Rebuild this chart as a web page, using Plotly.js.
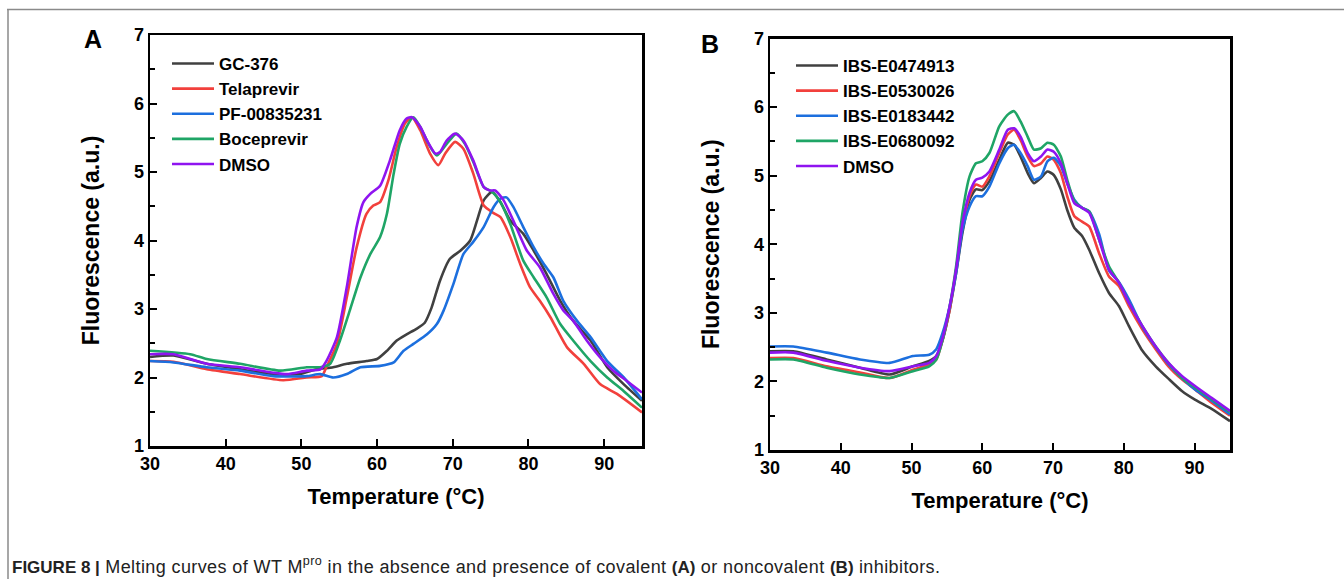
<!DOCTYPE html>
<html>
<head>
<meta charset="utf-8">
<script src="https://cdn.plot.ly/plotly-3.0.1.min.js"></script>
<style>html,body{margin:0;padding:0;background:#fff;}#chart{width:1344px;height:579px;}</style>
</head>
<body>
<div id="chart"></div>
<script>
// ---------- Panel A (covalent inhibitors) ----------
const namesA = ["GC-376", "Telaprevir", "PF-00835231", "Boceprevir", "DMSO"];
const gcX = [30,33.1,37.5,41.9,46.3,49.8,52.0,54.2,56.0,58.6,60.0,61.3,62.6,63.9,65.2,66.3,67.2,68.3,69.6,71.0,72.3,73.2,74.1,75.2,76.3,77.6,79.3,80.7,82.4,84.2,85.9,88.2,90.4,92.6,95];
const gcY = [2.30,2.32,2.20,2.12,2.05,2.05,2.12,2.15,2.20,2.24,2.27,2.39,2.54,2.63,2.71,2.80,3.02,3.41,3.73,3.85,4.00,4.29,4.59,4.71,4.56,4.29,4.10,3.85,3.51,3.12,2.83,2.54,2.15,1.90,1.66];
const telX = [30,33.1,37.5,41.9,47.6,50.7,52.7,53.3,54.7,56.0,57.3,58.6,59.5,60.4,61.5,62.6,63.7,64.6,65.7,67.0,68.1,69.0,70.3,71.4,72.7,74.1,75.4,76.3,77.6,78.9,80.2,81.5,82.9,85.1,87.3,89.5,91.7,95];
const telY = [2.24,2.23,2.12,2.05,1.96,2.00,2.02,2.15,2.49,3.17,3.90,4.39,4.51,4.56,4.88,5.37,5.71,5.80,5.61,5.27,5.10,5.27,5.44,5.34,4.98,4.51,4.40,4.34,4.05,3.66,3.32,3.12,2.88,2.44,2.20,1.90,1.76,1.49];
const pfX = [30,33.1,37.5,41.9,46.3,50.7,52.5,54.2,56.0,57.8,60.4,62.2,63.5,64.8,66.6,67.9,68.8,70.1,71.4,72.7,74.1,75.4,76.3,77.1,78.0,79.3,80.7,82.0,83.3,84.6,86.4,88.2,90.4,92.6,95];
const pfY = [2.24,2.22,2.15,2.10,2.02,2.02,2.05,2.00,2.05,2.15,2.17,2.22,2.39,2.49,2.63,2.78,2.98,3.37,3.80,3.98,4.20,4.49,4.61,4.63,4.49,4.20,3.90,3.66,3.46,3.12,2.83,2.59,2.24,2.00,1.68];
const bocX = [30,35.3,37.5,41.9,47.2,50.7,52.5,53.8,55.1,56.4,57.8,59.1,60.4,61.3,62.2,63.0,63.9,64.8,65.7,66.8,67.9,69.2,70.5,71.6,72.7,74.1,75.2,76.3,77.6,79.3,80.7,82.4,84.2,85.9,88.2,90.4,92.6,95];
const bocY = [2.39,2.34,2.27,2.20,2.10,2.15,2.15,2.20,2.54,2.98,3.46,3.80,4.05,4.39,4.98,5.41,5.66,5.80,5.66,5.41,5.24,5.41,5.56,5.41,5.15,4.78,4.71,4.56,4.24,3.71,3.46,3.17,2.78,2.54,2.24,2.00,1.80,1.56];
const dmsoAX = [30,33.1,37.5,41.9,46.3,48.1,50.7,52.5,53.3,54.7,56.0,57.3,58.2,59.1,60.4,61.7,63.0,63.9,64.6,65.7,66.6,67.7,68.3,69.2,70.3,71.4,72.7,74.1,74.9,75.6,76.7,78.0,79.8,81.5,83.3,84.6,85.9,87.7,89.5,91.2,93.0,95];
const dmsoAY = [2.34,2.34,2.20,2.15,2.07,2.05,2.10,2.12,2.24,2.59,3.32,4.20,4.56,4.68,4.80,5.17,5.61,5.78,5.80,5.66,5.46,5.27,5.29,5.46,5.56,5.46,5.17,4.78,4.73,4.73,4.59,4.29,3.85,3.61,3.22,2.98,2.83,2.54,2.29,2.10,1.95,1.78];

// ---------- Panel B (noncovalent inhibitors) ----------
const namesB = ["IBS-E0474913", "IBS-E0530026", "IBS-E0183442", "IBS-E0680092", "DMSO"];
const bX = [30,33.3,38.0,42.7,46.9,50.2,52.5,53.5,54.4,55.4,56.3,57.2,58.2,59.1,60.0,61.0,62.4,63.6,64.5,65.4,66.4,67.3,68.3,69.2,70.1,71.1,72.0,73.0,74.1,75.1,76.5,77.9,79.3,80.7,82.6,84.5,86.3,88.2,90.1,92.4,95];
const e0474913Y = [2.44,2.44,2.32,2.20,2.10,2.22,2.30,2.37,2.61,3.05,3.58,4.17,4.65,4.80,4.79,4.92,5.23,5.48,5.45,5.28,5.04,4.89,4.97,5.06,5.01,4.80,4.50,4.24,4.12,3.92,3.58,3.29,3.10,2.81,2.45,2.22,2.04,1.86,1.73,1.60,1.42];
const e0530026Y = [2.34,2.34,2.22,2.13,2.05,2.17,2.25,2.32,2.61,3.05,3.63,4.26,4.70,4.87,4.84,4.99,5.33,5.60,5.67,5.52,5.28,5.14,5.18,5.28,5.23,5.04,4.70,4.41,4.33,4.26,3.87,3.53,3.39,3.10,2.76,2.47,2.22,2.03,1.88,1.69,1.50];
const e0183442Y = [2.51,2.51,2.42,2.32,2.27,2.37,2.39,2.47,2.71,3.10,3.58,4.21,4.55,4.70,4.70,4.84,5.18,5.40,5.45,5.33,5.14,4.94,4.99,5.21,5.26,5.14,4.89,4.65,4.53,4.48,4.15,3.62,3.45,3.20,2.80,2.50,2.25,2.05,1.88,1.72,1.52];
const e0680092Y = [2.32,2.32,2.20,2.10,2.05,2.15,2.22,2.32,2.61,3.10,3.68,4.46,4.99,5.18,5.21,5.33,5.72,5.89,5.94,5.79,5.57,5.38,5.40,5.48,5.45,5.28,4.94,4.63,4.53,4.48,4.07,3.68,3.44,3.15,2.81,2.51,2.27,2.05,1.91,1.74,1.55];
const dmsoBY = [2.42,2.42,2.30,2.20,2.15,2.22,2.27,2.37,2.64,3.10,3.63,4.31,4.75,4.94,4.97,5.06,5.38,5.67,5.69,5.57,5.33,5.21,5.28,5.38,5.35,5.18,4.89,4.60,4.53,4.46,4.07,3.63,3.44,3.15,2.81,2.51,2.27,2.08,1.93,1.76,1.57];

// tick values
const xTicks = [30,40,50,60,70,80,90];
const yTicks = [1,2,3,4,5,6,7];

const colors = ["#404040", "#f2403c", "#1c6fde", "#1fa566", "#8f14f0"];

const FONT = "Liberation Sans, Arial, sans-serif";
const lineW = 2.6;

function mk(x, y, name, color, xa, ya, legend) {
  return {x: x, y: y, name: name, type: "scatter", mode: "lines",
    line: {color: color, width: lineW, shape: "spline", smoothing: 0.6},
    xaxis: xa, yaxis: ya, legend: legend, hoverinfo: "skip"};
}

const traces = [
  mk(gcX, gcY, namesA[0], colors[0], "x", "y", "legend"),
  mk(telX, telY, namesA[1], colors[1], "x", "y", "legend"),
  mk(pfX, pfY, namesA[2], colors[2], "x", "y", "legend"),
  mk(bocX, bocY, namesA[3], colors[3], "x", "y", "legend"),
  mk(dmsoAX, dmsoAY, namesA[4], colors[4], "x", "y", "legend"),
  mk(bX, e0474913Y, namesB[0], colors[0], "x2", "y2", "legend2"),
  mk(bX, e0530026Y, namesB[1], colors[1], "x2", "y2", "legend2"),
  mk(bX, e0183442Y, namesB[2], colors[2], "x2", "y2", "legend2"),
  mk(bX, e0680092Y, namesB[3], colors[3], "x2", "y2", "legend2"),
  mk(bX, dmsoBY, namesB[4], colors[4], "x2", "y2", "legend2")
];

function xaxis(domain, anchor) {
  return {domain: domain, anchor: anchor, range: [30, 95], tickvals: xTicks,
    ticks: "inside", ticklen: 7, tickwidth: 2, tickcolor: "#000",
    showline: true, linewidth: 2.5, linecolor: "#000", mirror: true,
    showgrid: false, zeroline: false,
    tickfont: {family: FONT, size: 18, color: "#000", weight: "bold"},
    title: {text: "Temperature (°C)", standoff: 16,
      font: {family: FONT, size: 22, color: "#000", weight: "bold"}}};
}
function yaxis(domain, anchor) {
  return {domain: domain, anchor: anchor, range: [1, 7], tickvals: yTicks,
    ticks: "inside", ticklen: 7, tickwidth: 2, tickcolor: "#000",
    minor: {dtick: 0.5, ticks: "inside", ticklen: 5, tickwidth: 2, tickcolor: "#000", showgrid: false},
    showline: true, linewidth: 2.5, linecolor: "#000", mirror: true,
    showgrid: false, zeroline: false,
    tickfont: {family: FONT, size: 18, color: "#000", weight: "bold"},
    title: {text: "Fluorescence (a.u.)", standoff: 28,
      font: {family: FONT, size: 23, color: "#000", weight: "bold"}}};
}

const legendStyle = {font: {family: FONT, size: 17, color: "#000", weight: "bold"},
  bgcolor: "rgba(0,0,0,0)", borderwidth: 0, xanchor: "left", yanchor: "top",
  tracegroupgap: 0, itemwidth: 42};

const layout = {
  width: 1344, height: 579,
  margin: {l: 0, r: 0, t: 0, b: 0},
  paper_bgcolor: "#fff", plot_bgcolor: "#fff",
  showlegend: true,
  xaxis: xaxis([150/1344, 642/1344], "y"),
  yaxis: yaxis([1 - 446/579, 1 - 35/579], "x"),
  xaxis2: xaxis([770/1344, 1230/1344], "y2"),
  yaxis2: yaxis([1 - 450/579, 1 - 38.5/579], "x2"),
  legend: Object.assign({x: 167/1344, y: 1 - 46/579}, legendStyle),
  legend2: Object.assign({x: 791/1344, y: 1 - 48/579}, legendStyle),
  shapes: [
    {type: "line", xref: "paper", yref: "paper", x0: 7/1344, x1: 1, y0: 1 - 9.5/579, y1: 1 - 9.5/579,
      line: {color: "#8a8a8a", width: 1.5}},
    {type: "line", xref: "paper", yref: "paper", x0: 8/1344, x1: 8/1344, y0: 0, y1: 1 - 9.5/579,
      line: {color: "#8a8a8a", width: 1.5}}
  ],
  annotations: [
    {text: "A", xref: "paper", yref: "paper", x: 93/1344, y: 1 - 39/579, showarrow: false,
      xanchor: "center", yanchor: "middle", font: {family: FONT, size: 25, color: "#000", weight: "bold"}},
    {text: "B", xref: "paper", yref: "paper", x: 710/1344, y: 1 - 44/579, showarrow: false,
      xanchor: "center", yanchor: "middle", font: {family: FONT, size: 25, color: "#000", weight: "bold"}},
    {text: "<b>FIGURE 8 |</b><span style=\"font-size:18px;letter-spacing:0.4px\"> Melting curves of WT M<sup>pro</sup> in the absence and presence of covalent </span><b>(A)</b><span style=\"font-size:18px;letter-spacing:0.4px\"> or noncovalent </span><b>(B)</b><span style=\"font-size:18px;letter-spacing:0.4px\"> inhibitors.</span>",
      xref: "paper", yref: "paper", x: 10/1344, y: 1 - 565/579, showarrow: false,
      xanchor: "left", yanchor: "middle",
      font: {family: FONT, size: 17, color: "#222"}}
  ]
};

Plotly.newPlot("chart", traces, layout, {displayModeBar: false, staticPlot: true});
</script>
</body>
</html>
